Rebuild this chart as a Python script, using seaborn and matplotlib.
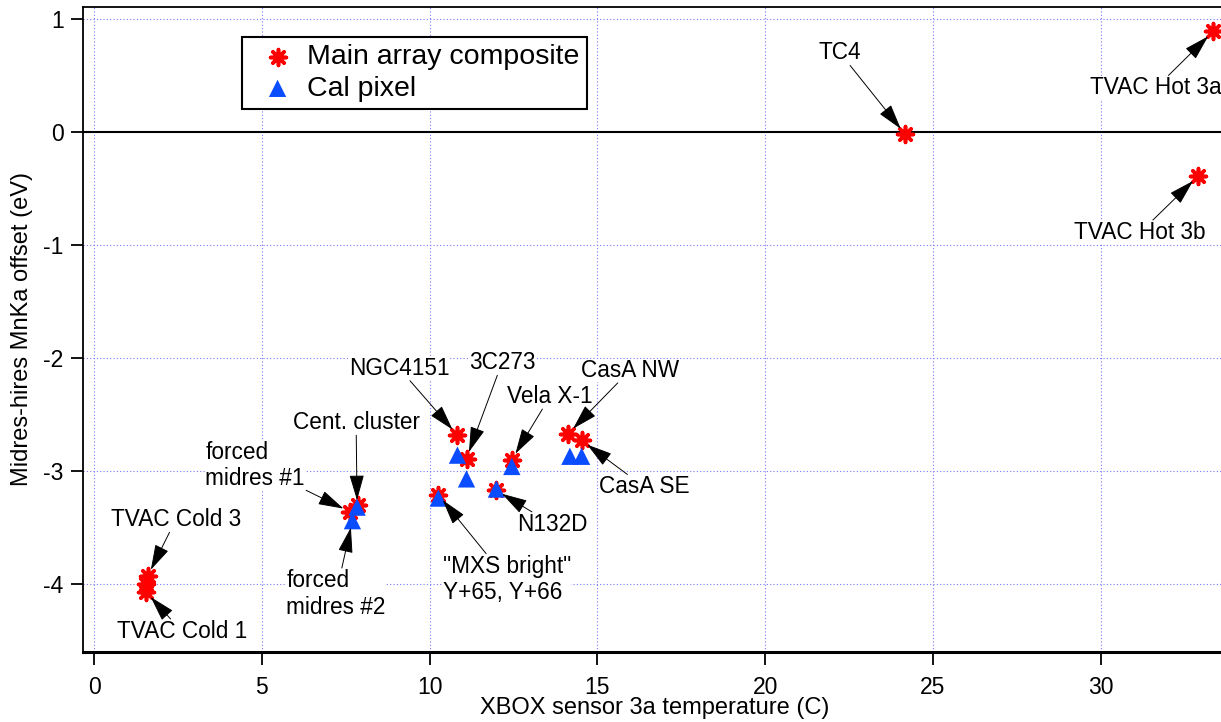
import matplotlib
matplotlib.use("Agg")
import matplotlib.pyplot as plt
import seaborn as sns

# Main array composite offsets vs XBOX sensor 3a temperature
main_temp = [1.60, 1.55, 1.55, 7.62, 7.86, 10.82, 11.10, 10.26, 11.98, 12.45, 14.13, 14.53, 24.17, 33.35, 32.90]
main_offset = [-3.93, -4.00, -4.07, -3.36, -3.30, -2.68, -2.89, -3.21, -3.17, -2.90, -2.67, -2.73, -0.02, 0.89, -0.39]

# Calibration pixel offsets
cal_temp = [7.84, 7.70, 10.83, 11.10, 10.26, 11.99, 12.45, 14.18, 14.53]
cal_offset = [-3.32, -3.44, -2.86, -3.07, -3.24, -3.16, -2.96, -2.87, -2.87]

# Labels: text, series, point index, label position (data units)
labels = [
    ("TVAC Cold 3", "main", 0, 2.44, -3.43),
    ("TVAC Cold 1", "main", 2, 2.62, -4.42),
    ("forced\nmidres #1", "main", 3, 4.80, -2.95),
    ("Cent. cluster", "cal", 0, 7.81, -2.57),
    ("forced\nmidres #2", "cal", 1, 7.21, -4.09),
    ("NGC4151", "main", 5, 9.09, -2.09),
    ("3C273", "main", 6, 12.16, -2.04),
    ("Vela X-1", "main", 9, 13.59, -2.34),
    ("CasA NW", "main", 10, 15.97, -2.11),
    ("CasA SE", "main", 11, 16.39, -3.14),
    ("N132D", "main", 8, 13.65, -3.47),
    ('"MXS bright"\nY+65, Y+66', "main", 7, 12.31, -3.96),
    ("TC4", "main", 12, 22.23, 0.70),
    ("TVAC Hot 3a", "main", 13, 31.64, 0.39),
    ("TVAC Hot 3b", "main", 14, 31.17, -0.89),
]

xticks = [0, 5, 10, 15, 20, 25, 30]
yticks = [-4, -3, -2, -1, 0, 1]

sns.set_theme(style="white")
plt.rcParams["font.family"] = ["Liberation Sans", "DejaVu Sans"]
plt.rcParams["axes.unicode_minus"] = False
plt.rcParams["text.color"] = "black"
plt.rcParams["axes.labelcolor"] = "black"
plt.rcParams["xtick.color"] = "black"
plt.rcParams["ytick.color"] = "black"

fig = plt.figure(figsize=(12.21, 7.22), dpi=100)
ax = fig.add_axes([83 / 1221, 70 / 722, 1152 / 1221, 645 / 722])

ax.set_xlim(-0.328, 34.0)
ax.set_ylim(-4.602, 1.106)

# Grid and zero line
ax.set_xticks(xticks)
ax.set_yticks(yticks)
for t in xticks:
    ax.axvline(t, color="#7777ff", lw=0.8, ls=(0, (1, 2)), zorder=0)
for t in yticks:
    if t != 0:
        ax.axhline(t, color="#7777ff", lw=0.8, ls=(0, (1, 2)), zorder=0)
ax.axhline(0, color="black", lw=1.5, zorder=0.5)

red = "#ff0000"
blue = "#0a4cff"
sns.scatterplot(x=main_temp, y=main_offset, marker=(8, 2, 0), s=130,
                color=red, edgecolor=red, linewidth=2.6,
                label="Main array composite", ax=ax, zorder=2)
sns.scatterplot(x=cal_temp, y=cal_offset, marker="^", s=155,
                color=blue, edgecolor="none", linewidth=0,
                label="Cal pixel", ax=ax, zorder=2.5)

series = {"main": (main_temp, main_offset), "cal": (cal_temp, cal_offset)}
for text, key, idx, lx, ly in labels:
    xs, ys = series[key]
    ax.annotate(text, xy=(xs[idx], ys[idx]), xytext=(lx, ly),
                ha="center", va="center", multialignment="left",
                fontsize=16.3, color="black",
                bbox=dict(boxstyle="square,pad=0", fc="white", ec="none"),
                arrowprops=dict(arrowstyle="-|>,head_length=0.8,head_width=0.23",
                                color="black", lw=0.7, shrinkA=1, shrinkB=5,
                                mutation_scale=20),
                zorder=3)

# Axes styling
ax.spines["right"].set_visible(False)
ax.spines["left"].set_linewidth(1.3)
ax.spines["top"].set_linewidth(1.3)
ax.spines["bottom"].set_linewidth(2.2)
for s in ax.spines.values():
    s.set_color("black")
ax.tick_params(axis="both", direction="out", length=9, width=1.3,
               colors="black", labelsize=16.5, pad=5)
ax.tick_params(axis="x", pad=8)
ax.tick_params(top=False, right=False, bottom=True, left=True)

ax.set_xlabel("XBOX sensor 3a temperature (C)", fontsize=17, color="black")
ax.set_ylabel("Midres-hires MnKa offset (eV)", fontsize=17, color="black")
ax.xaxis.set_label_coords(0.4965, -0.069)
ax.yaxis.set_label_coords(-0.043, 0.5)

leg = ax.legend(loc="upper left", bbox_to_anchor=(0.138, 0.9535), borderaxespad=0,
                fontsize=20.5, frameon=True, fancybox=False, framealpha=1,
                borderpad=0.25, handlelength=2.0, handletextpad=0.05,
                labelspacing=0.2, markerscale=1.0)
leg.get_frame().set_edgecolor("black")
leg.get_frame().set_linewidth(1.5)
for t in leg.get_texts():
    t.set_color("black")

fig.savefig("out.png", dpi=100)
